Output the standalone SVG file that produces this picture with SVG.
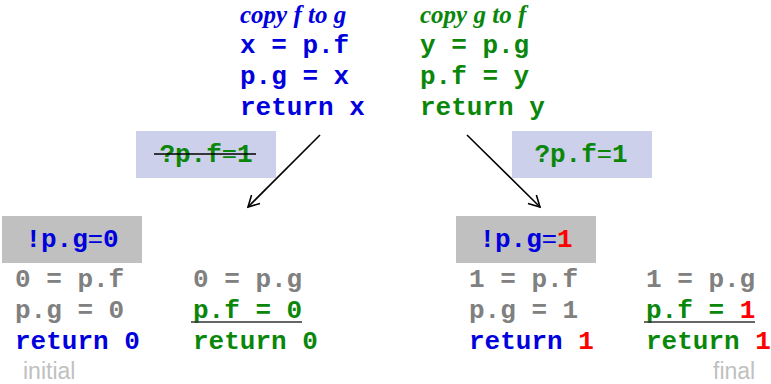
<svg xmlns="http://www.w3.org/2000/svg" width="771" height="384" viewBox="0 0 771 384">
<style>
.m{font-family:"Liberation Mono","Courier New",monospace;font-weight:bold;font-size:26px}
.h{font-family:"Liberation Serif","Times New Roman",serif;font-style:italic;font-weight:bold;font-size:25px}
.s{font-family:"Liberation Sans",Arial,sans-serif;font-size:23px;fill:#c0c0c0}
.eq{font-family:"Liberation Sans",Arial,sans-serif;font-weight:normal}
.b{fill:#0000dd}.g{fill:#0a870a}.k{fill:#808080}.r{fill:#ff0000}
.pb{fill:#cdd0ea}.gb{fill:#c0c0c0}
.c{stroke:#000;stroke-width:1.6;fill:none}
</style>
<defs>
<marker id="ah" markerWidth="14" markerHeight="14" refX="12" refY="7" orient="auto" markerUnits="userSpaceOnUse">
<path d="M1,1 L12,7 L1,13" fill="none" stroke="#000" stroke-width="1.6"/>
</marker>
</defs>
<g id="code-f-to-g">
<text class="h b" x="240" y="23">copy f to g</text>
<text class="m b" x="240" y="53">x = p.f</text>
<text class="m b" x="240" y="84">p.g = x</text>
<text class="m b" x="240" y="115">return x</text>
</g>
<g id="code-g-to-f">
<text class="h g" x="420" y="23">copy g to f</text>
<text class="m g" x="420" y="53">y = p.g</text>
<text class="m g" x="420" y="84">p.f = y</text>
<text class="m g" x="420" y="115">return y</text>
</g>
<g id="connectors">
<line class="c" x1="320" y1="135" x2="248" y2="207" marker-end="url(#ah)"/>
<line class="c" x1="467" y1="135" x2="540" y2="207" marker-end="url(#ah)"/>
</g>
<g id="query-left">
<rect class="pb" x="136" y="131" width="140" height="47"/>
<text class="m g" x="206" y="162" text-anchor="middle">?p.f<tspan class="eq">=</tspan>1</text>
<line x1="154" y1="154" x2="256" y2="154" stroke="#000" stroke-width="1.5"/>
</g>
<g id="query-right">
<rect class="pb" x="512" y="131" width="140" height="47"/>
<text class="m g" x="581" y="162" text-anchor="middle">?p.f<tspan class="eq">=</tspan>1</text>
</g>
<g id="state-initial">
<rect class="gb" x="2" y="216" width="140" height="47"/>
<text class="m b" x="72" y="247" text-anchor="middle">!p.g<tspan class="eq">=</tspan>0</text>
</g>
<g id="state-final">
<rect class="gb" x="456" y="216" width="140" height="47"/>
<text class="m b" x="526" y="247" text-anchor="middle">!p.g<tspan class="eq">=</tspan><tspan class="r">1</tspan></text>
</g>
<g id="trace-initial-f-to-g">
<text class="m k" x="15" y="287">0 = p.f</text>
<text class="m k" x="15" y="318">p.g = 0</text>
<text class="m b" x="15" y="349">return 0</text>
</g>
<g id="trace-initial-g-to-f">
<text class="m k" x="193" y="287">0 = p.g</text>
<text class="m g" x="193" y="318">p.f = 0</text>
<line x1="191" y1="322" x2="302" y2="322" stroke="#333" stroke-width="1.3"/>
<text class="m g" x="193" y="349">return 0</text>
</g>
<g id="trace-final-f-to-g">
<text class="m k" x="469" y="287">1 = p.f</text>
<text class="m k" x="469" y="318">p.g = 1</text>
<text class="m b" x="469" y="349">return <tspan class="r">1</tspan></text>
</g>
<g id="trace-final-g-to-f">
<text class="m k" x="646" y="287">1 = p.g</text>
<text class="m g" x="646" y="318">p.f = <tspan class="r">1</tspan></text>
<line x1="644" y1="322" x2="755" y2="322" stroke="#333" stroke-width="1.3"/>
<text class="m g" x="646" y="349">return <tspan class="r">1</tspan></text>
</g>
<g id="label-initial"><text class="s" x="23" y="379">initial</text></g>
<g id="label-final"><text class="s" x="713" y="379">final</text></g>
</svg>
